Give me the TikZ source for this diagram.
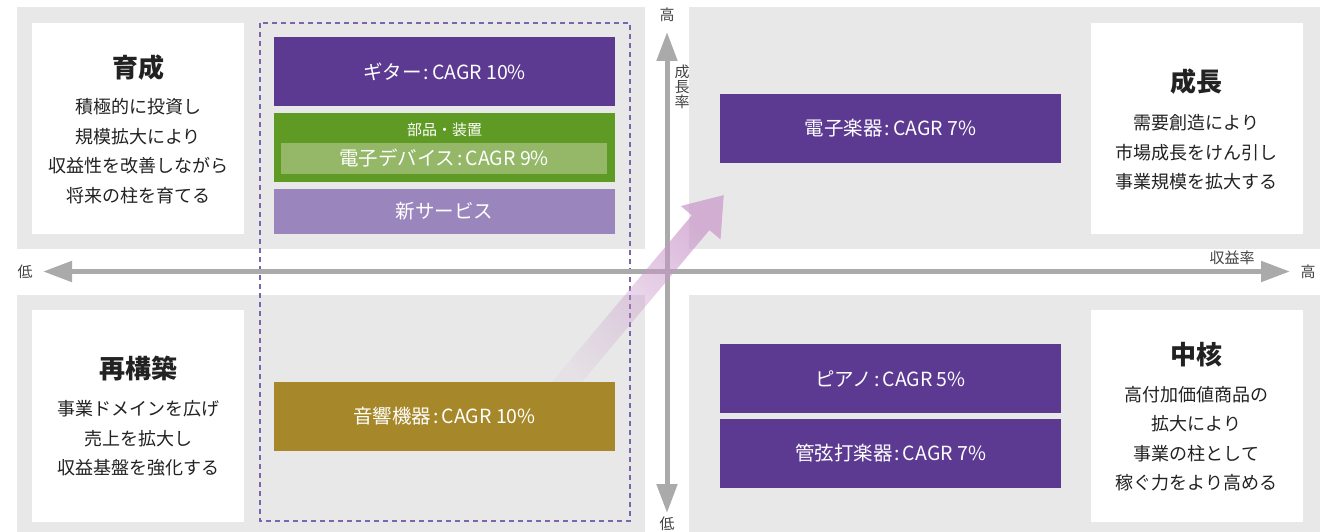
\documentclass[tikz,border=0pt]{standalone}
\usepackage{fontspec}
\setmainfont{Noto Sans CJK JP}
\usetikzlibrary{fadings,arrows.meta}
\definecolor{bggray}{HTML}{E8E8E8}
\definecolor{ppl}{HTML}{5C3A92}
\definecolor{grn}{HTML}{5F9A24}
\definecolor{lgrn}{HTML}{94B868}
\definecolor{lppl}{HTML}{9B85BD}
\definecolor{goldc}{HTML}{A6882A}
\definecolor{axisg}{HTML}{AAAAAA}
\definecolor{dashp}{HTML}{7B66AC}
\definecolor{arrowc}{HTML}{C996C9}
\definecolor{txt}{HTML}{222222}
\newcommand{\cln}{\kern2pt:\kern3pt}
\tikzfading[name=arrowfade, top color=transparent!30, bottom color=transparent!92]
\tikzset{
  quad/.style={fill=bggray, draw=none},
  whitebox/.style={fill=white, draw=none, minimum width=212pt, minimum height=211pt, inner sep=0pt},
  cbox/.style={draw=none, text=white, minimum width=341pt, minimum height=69pt, inner sep=0pt, font=\fontsize{19.5}{21}\selectfont},
  ttl/.style={text=txt, font=\fontsize{26}{28}\selectfont\bfseries, inner sep=0pt},
  body/.style={text=txt, align=center, font=\fontsize{18}{29.5}\selectfont, inner sep=0pt},
  axlab/.style={text=txt!85, font=\fontsize{15}{15}\selectfont, inner sep=0pt},
  axisline/.style={draw=axisg, line width=5pt, {Triangle[length=29pt,width=20pt]}-{Triangle[length=29pt,width=20pt]}},
}
\begin{document}
\begin{tikzpicture}[x=1pt,y=-1pt]
\useasboundingbox (0,0) rectangle (1320,532);
% quadrants
\fill[quad] (17,7) rectangle (645,249);
\fill[quad] (689,7) rectangle (1320,249);
\fill[quad] (17,295) rectangle (645,532);
\fill[quad] (689,295) rectangle (1320,532);
% dashed group frame
\draw[dashp, line width=1.1pt, dash pattern=on 5pt off 4pt] (260,23) rectangle (630,521);
% axes
\coordinate (xl) at (43,271.5);
\coordinate (xr) at (1290,271.5);
\coordinate (yt) at (667,32);
\coordinate (yb) at (667,513);
\draw[axisline] (xl) -- (xr);
\draw[axisline] (yb) -- (yt);
\node[axlab] (lowx) at (25,272) {低};
\node[axlab] (highx) at (1308,272) {高};
\node[axlab] (rrate) at (1232,258) {収益率};
\node[axlab] (highy) at (667,15) {高};
\node[axlab] (lowy) at (667,523.5) {低};
\node[axlab, align=center, font=\fontsize{15}{15}\selectfont] (grate) at (682,87) {成\\長\\率};
% shift arrow
\fill[arrowc, path fading=arrowfade, fading angle=-40]
  (724,195) -- (681.0,205.9) -- (692.1,215.2) -- (548.1,386.8)
  -- (565.7,401.6) -- (709.7,230.0) -- (720.8,239.3) -- cycle;
% white boxes
\node[whitebox] (ikusei) at (138,128.5) {};
\node[ttl] (ikuseit) at (138,68) {育成};
\node[body] (ikuseib) at (138,151) {積極的に投資し\\規模拡大により\\収益性を改善しながら\\将来の柱を育てる};
\node[whitebox] (seicho) at (1196.5,128.5) {};
\node[ttl] (seichot) at (1196.5,82) {成長};
\node[body] (seichob) at (1196.5,152.5) {需要創造により\\市場成長をけん引し\\事業規模を拡大する};
\node[whitebox, minimum height=212pt] (saiko) at (138,416) {};
\node[ttl] (saikot) at (138,369) {再構築};
\node[body] (saikob) at (138,438.5) {事業ドメインを広げ\\売上を拡大し\\収益基盤を強化する};
\node[whitebox, minimum height=212pt] (chukaku) at (1196.5,416) {};
\node[ttl] (chukakut) at (1196.5,355) {中核};
\node[body] (chukakub) at (1196.5,438.5) {高付加価値商品の\\拡大により\\事業の柱として\\稼ぐ力をより高める};
% business boxes
\node[cbox, fill=ppl, minimum height=69pt] (guitar) at (444.5,71.5) {ギター\cln CAGR 10\%};
\node[cbox, fill=grn, minimum height=69pt] (parts) at (444.5,147.5) {};
\node[text=white, inner sep=0pt, font=\fontsize{15}{15}\selectfont] (partsl) at (444.5,129.5) {部品・装置};
\node[cbox, fill=lgrn, minimum width=326pt, minimum height=31pt] (edev) at (444,158.5) {電子デバイス\cln CAGR 9\%};
\node[cbox, fill=lppl, minimum height=45pt] (newsvc) at (444.5,211.5) {新サービス};
\node[cbox, fill=goldc] (audio) at (444.5,416.5) {音響機器\cln CAGR 10\%};
\node[cbox, fill=ppl] (emus) at (890.5,128.5) {電子楽器\cln CAGR 7\%};
\node[cbox, fill=ppl] (piano) at (890.5,378.5) {ピアノ\cln CAGR 5\%};
\node[cbox, fill=ppl] (wind) at (890.5,453.5) {管弦打楽器\cln CAGR 7\%};
\end{tikzpicture}
\end{document}
